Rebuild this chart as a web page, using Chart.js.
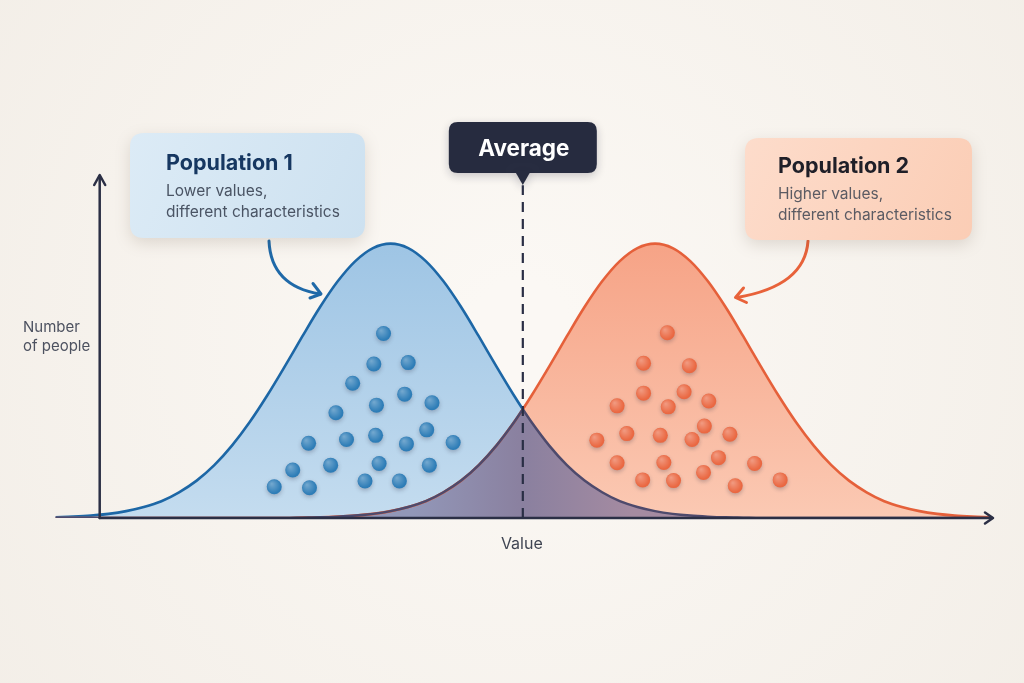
<!DOCTYPE html>
<html>
<head>
<meta charset="utf-8">
<script src="https://cdn.jsdelivr.net/npm/chart.js@4.4.1/dist/chart.umd.min.js"></script>
<style>
html,body{margin:0;padding:0;background:#f5f1eb;}
canvas{display:block;}
</style>
</head>
<body>
<canvas id="c" width="1024" height="683"></canvas>
<script>
// ---- data ----
const xValues = [-6,-4,-2,0,2,4,6,8,10,12,14,16,18,20,22,24,26,28,30,32,34,36,38,40,42,44,46,47,48,50,52,54,56,58,60,62,64,66,68,70,72,74,76,78,80,82,84,86,88,90,92,94,96,98,100];
const population1 = [0.2,0.4,0.7,1.2,2.0,3.2,4.9,7.5,10.9,15.4,21.1,27.9,35.7,44.2,53.0,61.5,69.0,74.9,78.7,80,78.7,74.9,69.0,61.5,53.0,44.2,35.7,31.7,27.9,21.1,15.4,10.9,7.5,4.9,3.2,2.0,1.2,0.7,0.4,0.2,0.1,0,0,0,0,0,0,0,0,0,0,0,0,0,0];
const population2 = [0,0,0,0,0,0,0,0,0,0,0,0,0,0,0.1,0.2,0.4,0.7,1.2,2.0,3.2,4.9,7.5,10.9,15.4,21.1,27.9,31.7,35.7,44.2,53.0,61.5,69.0,74.9,78.7,80,78.7,74.9,69.0,61.5,53.0,44.2,35.7,27.9,21.1,15.4,10.9,7.5,4.9,3.2,2.0,1.2,0.7,0.4,0.2];
const averageValue = 47;
const dots1X = [31.2,30.1,34.0,27.7,33.6,30.4,36.7,25.8,22.7,27.0,30.3,33.8,36.1,39.1,20.9,25.2,30.7,36.4,18.8,22.8,29.1,33.0];
const dots1Y = [53.8,44.9,45.3,39.3,36.1,32.9,33.6,30.7,21.8,22.9,24.1,21.6,25.7,22.0,14.0,15.4,15.9,15.4,9.1,8.8,10.8,10.8];
const dots2X = [63.4,60.7,65.9,60.7,65.3,68.1,57.7,63.5,67.6,55.4,58.8,62.6,66.2,70.5,57.7,63.0,69.2,73.3,60.6,64.1,67.5,71.1,76.2];
const dots2Y = [54.0,45.1,44.4,36.4,36.8,34.1,32.7,32.4,26.8,22.7,24.6,24.1,22.9,24.4,16.1,16.2,17.6,15.9,11.1,10.9,13.3,9.4,11.1];

const texts = {
  pop1Title: 'Population 1', pop1Lines: ['Lower values,', 'different characteristics'],
  pop2Title: 'Population 2', pop2Lines: ['Higher values,', 'different characteristics'],
  average: 'Average', yTitle: ['Number', 'of people'], xTitle: 'Value'
};

// ---- helpers ----
const FONT = 'Inter, "Open Sans", "DejaVu Sans", sans-serif';
function pts(a, b) { return a.map((v, i) => ({x: v, y: b[i]})); }
function trace(ctx, p) {
  ctx.moveTo(p[0].x, p[0].y);
  for (let i = 1; i < p.length; i++) {
    const a = p[i - 1], b = p[i];
    if (a.cp2x !== undefined && b.cp1x !== undefined) ctx.bezierCurveTo(a.cp2x, a.cp2y, b.cp1x, b.cp1y, b.x, b.y);
    else ctx.lineTo(b.x, b.y);
  }
}
function areaPath(ctx, p, yb) {
  ctx.beginPath(); trace(ctx, p);
  ctx.lineTo(p[p.length - 1].x, yb); ctx.lineTo(p[0].x, yb); ctx.closePath();
}
function rr(ctx, x, y, w, h, r) {
  ctx.beginPath();
  ctx.moveTo(x + r, y); ctx.lineTo(x + w - r, y); ctx.quadraticCurveTo(x + w, y, x + w, y + r);
  ctx.lineTo(x + w, y + h - r); ctx.quadraticCurveTo(x + w, y + h, x + w - r, y + h);
  ctx.lineTo(x + r, y + h); ctx.quadraticCurveTo(x, y + h, x, y + h - r);
  ctx.lineTo(x, y + r); ctx.quadraticCurveTo(x, y, x + r, y); ctx.closePath();
}
function grad(c, top, bottom) {
  const a = c.chart.chartArea;
  if (!a) return top;
  const g = c.chart.ctx.createLinearGradient(0, a.top + 60, 0, a.bottom);
  g.addColorStop(0, top); g.addColorStop(1, bottom);
  return g;
}

const I_BLUE = 0, I_ORANGE = 1, I_DOT1 = 3, I_DOT2 = 4;

const decor = {
  id: 'decor',
  beforeDraw(chart) {
    const ctx = chart.ctx;
    const g = ctx.createRadialGradient(520, 330, 50, 520, 330, 720);
    g.addColorStop(0, '#fbf8f4'); g.addColorStop(1, '#f2ede6');
    ctx.save(); ctx.fillStyle = g; ctx.fillRect(0, 0, chart.width, chart.height); ctx.restore();
  },
  beforeDatasetDraw(chart, args) {
    const ctx = chart.ctx;
    if (args.index === I_ORANGE) {
      const yb = chart.scales.y.getPixelForValue(0);
      const b = chart.getDatasetMeta(I_BLUE), o = chart.getDatasetMeta(I_ORANGE);
      b.dataset.updateControlPoints(chart.chartArea, 'x');
      o.dataset.updateControlPoints(chart.chartArea, 'x');
      ctx.save();
      areaPath(ctx, b.data, yb); ctx.clip();
      areaPath(ctx, o.data, yb);
      const cx = chart.scales.x.getPixelForValue(averageValue);
      const g = ctx.createLinearGradient(cx - 110, 0, cx + 110, 0);
      g.addColorStop(0, '#9297b8'); g.addColorStop(0.5, '#8a809f'); g.addColorStop(1, '#a58ba1');
      ctx.fillStyle = g; ctx.fill();
      ctx.restore();
    }
    if (args.index === I_DOT1 || args.index === I_DOT2) {
      ctx.save();
      ctx.shadowColor = 'rgba(40,40,60,0.28)'; ctx.shadowBlur = 4; ctx.shadowOffsetY = 2;
    }
  },
  afterDatasetDraw(chart, args) {
    const ctx = chart.ctx;
    if (args.index === I_ORANGE) {
      const a = chart.chartArea;
      const cx = chart.scales.x.getPixelForValue(averageValue);
      const b = chart.getDatasetMeta(I_BLUE), o = chart.getDatasetMeta(I_ORANGE);
      ctx.save();
      ctx.lineWidth = 2.5; ctx.strokeStyle = '#4e4a6c'; ctx.lineJoin = 'round';
      ctx.save(); ctx.beginPath(); ctx.rect(cx, a.top, a.right - cx, a.bottom - a.top); ctx.clip();
      ctx.beginPath(); trace(ctx, b.data); ctx.stroke(); ctx.restore();
      ctx.save(); ctx.beginPath(); ctx.rect(0, a.top, cx, a.bottom - a.top); ctx.clip();
      ctx.beginPath(); trace(ctx, o.data); ctx.stroke(); ctx.restore();
      ctx.restore();
    }
    if (args.index === I_DOT1 || args.index === I_DOT2) {
      ctx.restore();
      const meta = chart.getDatasetMeta(args.index);
      meta.data.forEach(p => {
        const g = ctx.createRadialGradient(p.x - 2.5, p.y - 3, 0.5, p.x - 1, p.y - 1, 7.5);
        g.addColorStop(0, 'rgba(255,255,255,0.32)'); g.addColorStop(1, 'rgba(255,255,255,0)');
        ctx.beginPath(); ctx.arc(p.x, p.y, 7.3, 0, Math.PI * 2); ctx.fillStyle = g; ctx.fill();
      });
    }
  },
  afterDatasetsDraw(chart) {
    const ctx = chart.ctx, a = chart.chartArea;
    const ax = chart.scales.x.getPixelForValue(-1);
    const ay = chart.scales.y.getPixelForValue(0);
    const top = chart.scales.y.getPixelForValue(100);
    ctx.save();
    ctx.strokeStyle = '#2b2f45'; ctx.lineWidth = 2.5; ctx.lineCap = 'round'; ctx.lineJoin = 'round';
    ctx.beginPath(); ctx.moveTo(ax, ay); ctx.lineTo(ax, top + 1); ctx.stroke();
    ctx.beginPath(); ctx.moveTo(ax - 5.5, top + 10); ctx.lineTo(ax, top); ctx.lineTo(ax + 5.5, top + 10); ctx.stroke();
    ctx.beginPath(); ctx.moveTo(ax, ay); ctx.lineTo(a.right + 2, ay); ctx.stroke();
    ctx.beginPath(); ctx.moveTo(a.right - 5, ay - 5.5); ctx.lineTo(a.right + 3, ay); ctx.lineTo(a.right - 5, ay + 5.5); ctx.stroke();
    ctx.restore();
  },
  afterDraw(chart) {
    const ctx = chart.ctx;
    const cx = chart.scales.x.getPixelForValue(averageValue);
    ctx.save();
    // axis titles
    ctx.fillStyle = '#4d5260'; ctx.font = '15px ' + FONT; ctx.textAlign = 'left'; ctx.textBaseline = 'alphabetic';
    ctx.fillText(texts.yTitle[0], 23, 332);
    ctx.fillText(texts.yTitle[1], 23, 351);
    ctx.fillStyle = '#3f4452'; ctx.font = '16px ' + FONT; ctx.textAlign = 'center';
    ctx.fillText(texts.xTitle, cx - 1, 549);

    // arrows
    ctx.lineWidth = 3; ctx.lineCap = 'round'; ctx.lineJoin = 'round';
    ctx.strokeStyle = '#1f69a8';
    ctx.beginPath(); ctx.moveTo(269, 241); ctx.quadraticCurveTo(271, 286, 320, 294); ctx.stroke();
    ctx.beginPath(); ctx.moveTo(313, 283.5); ctx.lineTo(321, 294); ctx.lineTo(310, 298); ctx.stroke();
    ctx.strokeStyle = '#e8623a';
    ctx.beginPath(); ctx.moveTo(808, 241); ctx.quadraticCurveTo(805, 286, 737, 297.5); ctx.stroke();
    ctx.beginPath(); ctx.moveTo(743.5, 288); ctx.lineTo(735.5, 297.5); ctx.lineTo(746.5, 302.5); ctx.stroke();

    // callout boxes
    function box(x, y, w, h, r, c1, c2) {
      ctx.save();
      ctx.shadowColor = 'rgba(80,60,40,0.16)'; ctx.shadowBlur = 16; ctx.shadowOffsetY = 5;
      const g = ctx.createLinearGradient(x, y, x + w, y + h);
      g.addColorStop(0, c1); g.addColorStop(1, c2);
      rr(ctx, x, y, w, h, r); ctx.fillStyle = g; ctx.fill();
      ctx.restore();
    }
    box(130, 133, 235, 105, 14, '#dcebf6', '#cde1f0');
    box(745, 138, 227, 102, 14, '#fddccb', '#fbcdb5');

    // average box with pointer
    ctx.save();
    ctx.shadowColor = 'rgba(20,20,40,0.22)'; ctx.shadowBlur = 10; ctx.shadowOffsetY = 3;
    ctx.fillStyle = '#262b3f';
    rr(ctx, cx - 74, 122, 148, 51, 9); ctx.fill();
    ctx.beginPath(); ctx.moveTo(cx - 8, 171); ctx.lineTo(cx + 8, 171); ctx.lineTo(cx, 185); ctx.closePath(); ctx.fill();
    ctx.restore();

    ctx.textAlign = 'left';
    ctx.font = 'bold 21.5px ' + FONT; ctx.fillStyle = '#163761';
    ctx.fillText(texts.pop1Title, 166, 170);
    ctx.font = '15.5px ' + FONT; ctx.fillStyle = '#4a5464';
    ctx.fillText(texts.pop1Lines[0], 166, 196);
    ctx.fillText(texts.pop1Lines[1], 166, 217);

    ctx.font = 'bold 21.5px ' + FONT; ctx.fillStyle = '#1f1f28';
    ctx.fillText(texts.pop2Title, 778, 173);
    ctx.font = '15.5px ' + FONT; ctx.fillStyle = '#5b5b63';
    ctx.fillText(texts.pop2Lines[0], 778, 199);
    ctx.fillText(texts.pop2Lines[1], 778, 220);

    ctx.textAlign = 'center';
    ctx.font = 'bold 22.5px ' + FONT; ctx.fillStyle = '#ffffff';
    ctx.fillText(texts.average, cx + 1, 156);
    ctx.restore();
  }
};

new Chart(document.getElementById('c'), {
  type: 'line',
  data: {
    datasets: [
      {
        label: 'Population 1', data: pts(xValues, population1), order: 4,
        borderColor: '#1d67a6', borderWidth: 2.6, pointRadius: 0,
        cubicInterpolationMode: 'monotone', fill: 'origin',
        backgroundColor: c => grad(c, '#9dc4e4', '#c4dcef')
      },
      {
        label: 'Population 2', data: pts(xValues, population2), order: 3,
        borderColor: '#e5603a', borderWidth: 2.6, pointRadius: 0,
        cubicInterpolationMode: 'monotone', fill: 'origin',
        backgroundColor: c => grad(c, '#f6a285', '#fbc9b3')
      },
      {
        label: 'Average', data: [{x: averageValue, y: 0}, {x: averageValue, y: 97}], order: 2,
        borderColor: '#2a2e45', borderWidth: 2.2, borderDash: [10, 7], pointRadius: 0, fill: false
      },
      {
        label: 'Population 1 people', data: pts(dots1X, dots1Y), order: 1, showLine: false,
        pointRadius: 7.5, pointBackgroundColor: '#2e7db7', pointBorderWidth: 0
      },
      {
        label: 'Population 2 people', data: pts(dots2X, dots2Y), order: 0, showLine: false,
        pointRadius: 7.5, pointBackgroundColor: '#ea6842', pointBorderWidth: 0
      }
    ]
  },
  options: {
    responsive: false, animation: false, devicePixelRatio: 1, events: [],
    layout: {padding: {left: 38, right: 34, top: 175, bottom: 165}},
    scales: {
      x: {type: 'linear', min: -8, max: 100, display: false},
      y: {type: 'linear', min: 0, max: 100, display: false}
    },
    plugins: {legend: {display: false}, tooltip: {enabled: false}}
  },
  plugins: [decor]
});
</script>
</body>
</html>
